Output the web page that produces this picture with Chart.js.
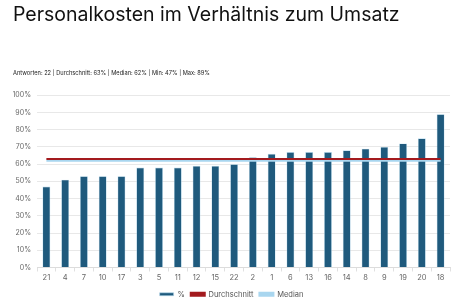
<!DOCTYPE html>
<html>
<head>
<meta charset="utf-8">
<script src="https://cdn.jsdelivr.net/npm/chart.js@4/dist/chart.umd.min.js"></script>
<style>
  html, body { margin: 0; padding: 0; background: #fff; }
  #wrap { width: 476px; height: 308px; position: relative; }
</style>
</head>
<body>
<div id="wrap"><canvas id="chart"></canvas></div>
<script>
const categories = ["21", "4", "7", "10", "17", "3", "5", "11", "12", "15", "22", "2", "1", "6", "13", "16", "14", "8", "9", "19", "20", "18"];
const percentValues = [47, 51, 53, 53, 53, 58, 58, 58, 59, 59, 60, 64, 66, 67, 67, 67, 68, 69, 70, 72, 75, 89];
const averageValue = 63;
const medianValue = 62;
const yTicks = [0, 10, 20, 30, 40, 50, 60, 70, 80, 90, 100];

const averageLine = categories.map(() => averageValue);
const medianLine = categories.map(() => medianValue);

const ctx = document.getElementById("chart");
new Chart(ctx, {
  type: "bar",
  data: {
    labels: categories,
    datasets: [
      {
        label: "%",
        data: percentValues,
        backgroundColor: "#1f5a7d",
        borderColor: "#b9dcef",
        borderWidth: 0.6,
        barPercentage: 0.42,
        categoryPercentage: 1,
        order: 2
      },
      {
        type: "line",
        label: "Durchschnitt",
        data: averageLine,
        borderColor: "#a31a1e",
        backgroundColor: "#a31a1e",
        borderWidth: 2,
        pointRadius: 0,
        order: 0
      },
      {
        type: "line",
        label: "Median",
        data: medianLine,
        borderColor: "#a9d6ef",
        backgroundColor: "#a9d6ef",
        borderWidth: 2,
        pointRadius: 0,
        order: 1
      }
    ]
  },
  options: {
    responsive: true,
    maintainAspectRatio: false,
    animation: false,
    layout: { padding: { left: 13, right: 26, top: 0, bottom: 0 } },
    plugins: {
      tooltip: { enabled: false },
      title: {
        display: true,
        text: "Personalkosten im Verhältnis zum Umsatz",
        align: "start",
        color: "#111",
        font: { family: "Inter", size: 19.5, weight: "normal" },
        padding: { top: 3, bottom: 42 }
      },
      subtitle: {
        display: true,
        text: "Antworten: 22 | Durchschnitt: 63% | Median: 62% | Min: 47% | Max: 89%",
        align: "start",
        color: "#222",
        font: { family: "Inter", size: 5.7 },
        padding: { top: 1, bottom: 19 }
      },
      legend: {
        position: "bottom",
        labels: {
          boxWidth: 14,
          boxHeight: 3,
          color: "#555",
          font: { family: "Inter", size: 7.5 },
          padding: 6,
          sort: (a, b) => a.datasetIndex - b.datasetIndex
        }
      }
    },
    scales: {
      x: {
        grid: { display: true, drawOnChartArea: false, tickLength: 4, color: "#e0e0e0" },
        border: { color: "#dcdcdc" },
        ticks: { color: "#666", font: { family: "Inter", size: 7.5 }, padding: 2 }
      },
      y: {
        min: 0,
        max: 100,
        afterBuildTicks: (axis) => { axis.ticks = yTicks.map(v => ({ value: v })); },
        afterFit: (axis) => { axis.width = 24; },
        grid: { color: "#e8e8e8", drawTicks: false },
        border: { display: false },
        ticks: {
          color: "#666",
          font: { family: "Inter", size: 7 },
          padding: 6,
          callback: (v) => v + "%"
        }
      }
    }
  }
});
</script>
</body>
</html>
